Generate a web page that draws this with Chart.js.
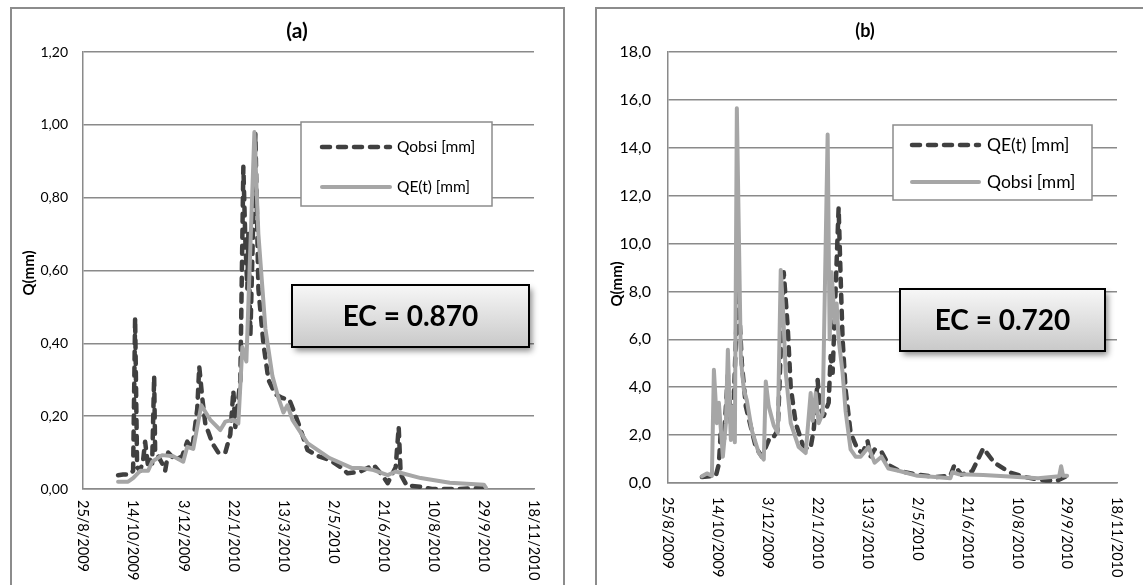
<!DOCTYPE html>
<html><head><meta charset="utf-8">
<script src="https://cdn.jsdelivr.net/npm/chart.js@4.4.1/dist/chart.umd.min.js"></script>
<style>
html,body{margin:0;padding:0;background:#fff;width:1143px;height:585px;overflow:hidden;position:relative;}
.box{position:absolute;top:7px;height:600px;border:2px solid #8c8c8c;box-sizing:border-box;}
canvas{position:absolute;top:0;}
</style></head><body>
<div class="box" style="left:10px;width:555px"></div>
<div class="box" style="left:595px;width:560px"></div>
<canvas id="ca" width="570" height="585" style="left:0"></canvas>
<canvas id="cb" width="570" height="585" style="left:573px"></canvas>
<script>
// ---------- DATA ----------
const xTickLabels = ['25/8/2009','14/10/2009','3/12/2009','22/1/2010','13/3/2010','2/5/2010','21/6/2010','10/8/2010','29/9/2010','18/11/2010'];

// Chart (a)
const aObsDates = ['29/9/2009','4/10/2009','11/10/2009','14/10/2009','16/10/2009','18/10/2009','21/10/2009','24/10/2009','26/10/2009','29/10/2009','31/10/2009','2/11/2009','4/11/2009','5/11/2009','8/11/2009','12/11/2009','15/11/2009','18/11/2009','25/11/2009','2/12/2009','7/12/2009','12/12/2009','17/12/2009','19/12/2009','22/12/2009','25/12/2009','1/1/2010','7/1/2010','14/1/2010','19/1/2010','22/1/2010','24/1/2010','29/1/2010','1/2/2010','3/2/2010','5/2/2010','6/2/2010','8/2/2010','13/2/2010','16/2/2010','21/2/2010','26/2/2010','5/3/2010','12/3/2010','19/3/2010','28/3/2010','6/4/2010','17/4/2010','28/4/2010','9/5/2010','16/5/2010','29/5/2010','11/6/2010','20/6/2010','25/6/2010','3/7/2010','6/7/2010','8/7/2010','14/7/2010','28/7/2010','8/8/2010','4/9/2010','19/9/2010','30/9/2010'];
const aObsValues = [0.038,0.04,0.04,0.05,0.47,0.06,0.05,0.08,0.13,0.06,0.08,0.07,0.31,0.10,0.09,0.07,0.05,0.10,0.08,0.09,0.13,0.11,0.22,0.336,0.25,0.18,0.126,0.10,0.10,0.15,0.27,0.17,0.30,0.885,0.68,0.55,0.70,0.42,0.975,0.55,0.40,0.30,0.26,0.25,0.245,0.18,0.107,0.09,0.08,0.06,0.043,0.048,0.066,0.036,0.016,0.06,0.17,0.04,0.01,0.006,0.0,0.0,0.002,0.003];
const aQeDates = ['29/9/2009','9/10/2009','14/10/2009','21/10/2009','29/10/2009','2/11/2009','12/11/2009','23/11/2009','3/12/2009','7/12/2009','13/12/2009','21/12/2009','30/12/2009','9/1/2010','14/1/2010','22/1/2010','27/1/2010','31/1/2010','4/2/2010','12/2/2010','16/2/2010','23/2/2010','2/3/2010','8/3/2010','13/3/2010','17/3/2010','22/3/2010','6/4/2010','28/4/2010','20/5/2010','29/5/2010','11/6/2010','25/6/2010','3/7/2010','28/7/2010','26/8/2010','29/9/2010','1/10/2010'];
const aQeValues = [0.02,0.02,0.03,0.05,0.05,0.075,0.093,0.09,0.075,0.116,0.11,0.23,0.19,0.162,0.185,0.19,0.18,0.39,0.35,0.98,0.70,0.44,0.31,0.25,0.21,0.23,0.19,0.126,0.085,0.058,0.058,0.052,0.038,0.048,0.03,0.017,0.012,0.004];

// Chart (b)
const bQeDates = ['28/9/2009','12/10/2009','15/10/2009','17/10/2009','20/10/2009','24/10/2009','27/10/2009','30/10/2009','3/11/2009','7/11/2009','11/11/2009','21/11/2009','27/11/2009','4/12/2009','7/12/2009','10/12/2009','13/12/2009','19/12/2009','23/12/2009','26/12/2009','31/12/2009','7/1/2010','12/1/2010','15/1/2010','18/1/2010','22/1/2010','24/1/2010','28/1/2010','2/2/2010','4/2/2010','6/2/2010','9/2/2010','12/2/2010','14/2/2010','16/2/2010','19/2/2010','24/2/2010','3/3/2010','8/3/2010','13/3/2010','16/3/2010','20/3/2010','27/3/2010','3/4/2010','14/4/2010','2/5/2010','20/5/2010','4/6/2010','8/6/2010','15/6/2010','26/6/2010','7/7/2010','18/7/2010','2/8/2010','17/8/2010','8/9/2010','19/9/2010','29/9/2010'];
const bQeValues = [0.25,0.3,0.8,2.2,1.8,4.5,2.5,3.5,8.4,5.0,3.2,1.5,1.1,1.8,1.8,2.0,2.2,8.8,6.5,4.0,2.5,1.6,1.4,1.5,2.2,4.3,3.2,2.8,3.35,5.3,4.6,8.1,11.5,8.6,6.0,3.9,2.1,1.4,1.25,1.75,1.1,1.4,1.3,0.75,0.5,0.35,0.25,0.3,0.75,0.35,0.5,1.45,0.85,0.45,0.25,0.1,0.1,0.3];
const bObsDates = ['28/9/2009','3/10/2009','8/10/2009','10/10/2009','13/10/2009','15/10/2009','19/10/2009','22/10/2009','24/10/2009','27/10/2009','29/10/2009','31/10/2009','2/11/2009','6/11/2009','9/11/2009','12/11/2009','17/11/2009','24/11/2009','29/11/2009','1/12/2009','4/12/2009','9/12/2009','13/12/2009','16/12/2009','18/12/2009','21/12/2009','26/12/2009','3/1/2010','10/1/2010','15/1/2010','17/1/2010','20/1/2010','23/1/2010','27/1/2010','1/2/2010','3/2/2010','5/2/2010','8/2/2010','10/2/2010','12/2/2010','16/2/2010','19/2/2010','24/2/2010','1/3/2010','6/3/2010','14/3/2010','20/3/2010','27/3/2010','3/4/2010','14/4/2010','2/5/2010','20/5/2010','4/6/2010','6/6/2010','12/6/2010','7/7/2010','2/8/2010','31/8/2010','21/9/2010','23/9/2010','25/9/2010','29/9/2010'];
const bObsValues = [0.28,0.4,0.3,4.73,2.5,3.35,1.1,2.5,5.56,1.8,3.2,1.7,15.65,5.2,3.9,3.45,2.2,1.25,0.98,4.24,3.2,2.4,2.1,8.9,7.5,4.6,2.5,1.5,1.25,3.76,2.6,3.75,2.5,2.9,14.55,6.0,8.8,6.7,7.5,6.0,4.6,3.0,1.4,1.1,1.1,1.5,0.85,1.1,0.6,0.5,0.3,0.25,0.2,0.45,0.37,0.33,0.27,0.2,0.28,0.7,0.3,0.3];

// ---------- HELPERS ----------
function toTime(s){const p=s.split('/').map(Number);return Date.UTC(p[2],p[1]-1,p[0]);}
function pts(dates, vals){return dates.map((d,i)=>({x:toTime(d),y:vals[i]}));}

const DARK = {borderColor:'#404040', borderWidth:4.5, borderDash:[8,8], borderCapStyle:'round'};
const GREY = {borderColor:'#a6a6a6', borderWidth:4, borderDash:[], borderCapStyle:'round'};

Chart.defaults.font.family = 'Lato';
Chart.defaults.color = '#000';

const decor = {
  id:'decor',
  afterDraw(chart, args, o){
    const ctx = chart.ctx, ca = chart.chartArea, xs = chart.scales.x;
    ctx.save();
    ctx.fillStyle = '#000';
    // title
    ctx.font = 'bold '+o.titleSize+'px Lato';
    ctx.textAlign = 'center'; ctx.textBaseline = 'middle';
    ctx.fillText(o.title, o.titleX, o.titleY);
    // y title
    ctx.save();
    ctx.translate(o.yTitleX, o.yTitleY); ctx.rotate(-Math.PI/2);
    ctx.font = 'bold 15px Lato';
    ctx.fillText(o.yTitle, 0, 0);
    ctx.restore();
    // x tick labels, rotated to read top-to-bottom
    ctx.font = '14.5px Lato';
    ctx.textAlign = 'left'; ctx.textBaseline = 'middle';
    xTickLabels.forEach(l => {
      const x = xs.getPixelForValue(toTime(l));
      ctx.save(); ctx.translate(x, ca.bottom + o.xGap); ctx.rotate(Math.PI/2);
      ctx.fillText(l, 0, 0); ctx.restore();
    });
    // legend
    const L = o.legend;
    ctx.fillStyle = '#fff'; ctx.fillRect(L.x, L.y, L.w, L.h);
    ctx.strokeStyle = '#8c8c8c'; ctx.lineWidth = 1.5; ctx.strokeRect(L.x, L.y, L.w, L.h);
    L.rows.forEach(r => {
      const ds = chart.data.datasets[r.ds];
      ctx.save();
      ctx.strokeStyle = ds.borderColor; ctx.lineWidth = ds.borderWidth;
      ctx.setLineDash(ds.borderDash || []); ctx.lineCap = ds.borderCapStyle;
      ctx.beginPath(); ctx.moveTo(L.sx1, r.y); ctx.lineTo(L.sx2, r.y); ctx.stroke();
      ctx.restore();
      ctx.fillStyle = '#000'; ctx.font = L.fs+'px Lato'; ctx.textAlign = 'left'; ctx.textBaseline = 'middle';
      ctx.fillText(ds.label, L.tx, r.y);
    });
    // EC box
    const E = o.ec;
    ctx.save();
    ctx.shadowColor = 'rgba(0,0,0,0.45)'; ctx.shadowBlur = 6; ctx.shadowOffsetX = 3; ctx.shadowOffsetY = 4;
    const g = ctx.createLinearGradient(0, E.y, 0, E.y + E.h);
    g.addColorStop(0, '#f7f7f7'); g.addColorStop(1, '#c9c9c9');
    ctx.fillStyle = g; ctx.fillRect(E.x, E.y, E.w, E.h);
    ctx.restore();
    ctx.strokeStyle = '#000'; ctx.lineWidth = 2; ctx.strokeRect(E.x, E.y, E.w, E.h);
    ctx.fillStyle = '#000'; ctx.font = 'bold 28px Lato'; ctx.textAlign = 'center'; ctx.textBaseline = 'middle';
    ctx.fillText(E.text, E.x + E.w/2, E.y + E.h/2 + 1);
    ctx.restore();
  }
};

function makeChart(id, cfg){
  return new Chart(document.getElementById(id), {
    type:'line',
    data:{datasets: cfg.datasets},
    options:{
      responsive:false, animation:false, devicePixelRatio:1,
      layout:{padding:{left:0, top:52, right:cfg.padRight, bottom:0}},
      elements:{point:{radius:0}, line:{tension:0, borderJoinStyle:'round'}},
      plugins:{legend:{display:false}, tooltip:{enabled:false}, decor: cfg.decor},
      scales:{
        x:{type:'linear', min:toTime(xTickLabels[0]), max:toTime(xTickLabels[xTickLabels.length-1]),
           ticks:{display:false}, grid:{display:false},
           border:{display:true, color:'#8a8a8a', width:1.5},
           afterFit:s=>{s.height = cfg.xHeight;}},
        y:{min:0, max:cfg.yMax, ticks:{stepSize:cfg.yStep, padding:cfg.yPad, font:{size:cfg.yFont}, color:'#000',
             callback:v=>v.toFixed(cfg.dec).replace('.', ',')},
           grid:{color:'#8a8a8a', lineWidth:1.5, drawTicks:false},
           border:{display:true, color:'#8a8a8a', width:1.5},
           afterFit:s=>{s.width = cfg.yWidth;}}
      }
    },
    plugins:[decor]
  });
}

makeChart('ca', {
  datasets:[
    Object.assign({label:'Qobsi [mm]', data:pts(aObsDates,aObsValues), order:2, fill:false}, DARK),
    Object.assign({label:'QE(t) [mm]', data:pts(aQeDates,aQeValues), order:1, fill:false}, GREY)
  ],
  padRight:36, xHeight:96, yWidth:83, yPad:15, yFont:14, yMax:1.2, yStep:0.2, dec:2,
  decor:{title:'(a)', titleSize:21, titleX:297, titleY:31, yTitle:'Q(mm)', yTitleX:29, yTitleY:273, xGap:11,
    legend:{x:301, y:122, w:191, h:84, sx1:322, sx2:390, tx:397, fs:15.5, rows:[{ds:0,y:147},{ds:1,y:187}]},
    ec:{x:292, y:285, w:237, h:62, text:'EC = 0.870'}}
});

makeChart('cb', {
  datasets:[
    Object.assign({label:'QE(t) [mm]', data:pts(bQeDates,bQeValues), order:2, fill:false}, DARK),
    Object.assign({label:'Qobsi [mm]', data:pts(bObsDates,bObsValues), order:1, fill:false}, GREY)
  ],
  padRight:26, xHeight:102, yWidth:95, yPad:17, yFont:16, yMax:18, yStep:2, dec:1,
  decor:{title:'(b)', titleSize:18, titleX:292, titleY:31, yTitle:'Q(mm)', yTitleX:44, yTitleY:284, xGap:14,
    legend:{x:320, y:125, w:199, h:75, sx1:339, sx2:406, tx:414, fs:17.5, rows:[{ds:0,y:145},{ds:1,y:182}]},
    ec:{x:327, y:289, w:205, h:62, text:'EC = 0.720'}}
});
</script></body></html>
